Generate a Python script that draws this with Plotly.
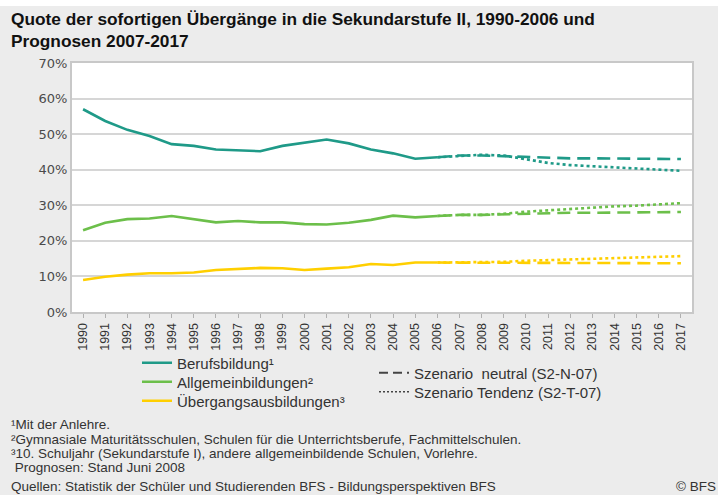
import plotly.graph_objects as go

# ---------------- data ----------------
years = [str(y) for y in range(1990, 2018)]
hist_years = [str(y) for y in range(1990, 2007)]
prog_years = [str(y) for y in range(2006, 2018)]

beruf_hist = [57.0, 53.7, 51.2, 49.5, 47.2, 46.7, 45.7, 45.5, 45.2, 46.7, 47.7, 48.5, 47.4, 45.7, 44.6, 43.1, 43.5]
allg_hist = [23.0, 25.1, 26.1, 26.3, 27.0, 26.2, 25.2, 25.6, 25.2, 25.2, 24.7, 24.6, 25.1, 25.9, 27.1, 26.6, 27.0]
ueberg_hist = [9.0, 9.9, 10.5, 10.9, 10.9, 11.1, 11.8, 12.1, 12.4, 12.3, 11.8, 12.2, 12.6, 13.5, 13.2, 13.9, 13.9]

beruf_neutral = [43.5, 44.0, 44.0, 43.8, 43.4, 43.3, 43.2, 43.2, 43.1, 43.1, 43.0, 43.0]
beruf_tendenz = [43.5, 43.9, 44.2, 44.0, 43.0, 41.9, 41.3, 41.0, 40.6, 40.4, 40.1, 39.7]
allg_neutral = [27.0, 27.3, 27.3, 27.5, 27.7, 27.8, 27.9, 27.9, 28.0, 28.0, 28.0, 28.1]
allg_tendenz = [27.0, 27.3, 27.3, 27.6, 28.2, 28.6, 29.0, 29.4, 29.7, 29.9, 30.2, 30.6]
ueberg_neutral = [13.9, 13.9, 13.8, 13.8, 13.8, 13.8, 13.7, 13.7, 13.7, 13.7, 13.7, 13.7]
ueberg_tendenz = [13.9, 13.9, 14.0, 14.1, 14.4, 14.6, 14.9, 15.0, 15.2, 15.4, 15.6, 15.7]

y_ticks = [0, 10, 20, 30, 40, 50, 60, 70]
y_ticklabels = [f"{v}%" for v in y_ticks]

series_names = ["Berufsbildung¹", "Allgemeinbildungen²", "Übergangsausbildungen³"]
series_colors = ["#1f9a88", "#6cbf4a", "#ffcf00"]
series_hist = [beruf_hist, allg_hist, ueberg_hist]
series_neutral = [beruf_neutral, allg_neutral, ueberg_neutral]
series_tendenz = [beruf_tendenz, allg_tendenz, ueberg_tendenz]
scenario_names = ["Szenario  neutral (S2-N-07)", "Szenario Tendenz (S2-T-07)"]

# ---------------- layout helpers ----------------
W, H = 720, 495
L, R, T, B = 72, 28, 63, 183
PW, PH = W - L - R, H - T - B
def px_x(x):
    return (x - L) / PW
def px_y(y):
    return (H - B - y) / PH

NARROW = "Liberation Sans Narrow, Arial Narrow, sans-serif"
LW = 2.6
DASH = "13px,7px"
DOT = "3px,3px"

fig = go.Figure()
legend_ids = ["legend", "legend2", "legend3"]
for i in range(3):
    fig.add_trace(go.Scatter(x=hist_years, y=series_hist[i], mode="lines", name=series_names[i],
                             line=dict(color=series_colors[i], width=LW), legend=legend_ids[i],
                             hoverinfo="skip"))
for i in range(3):
    fig.add_trace(go.Scatter(x=prog_years, y=series_neutral[i], mode="lines", showlegend=False,
                             line=dict(color=series_colors[i], width=LW, dash=DASH), hoverinfo="skip"))
    fig.add_trace(go.Scatter(x=prog_years, y=series_tendenz[i], mode="lines", showlegend=False,
                             line=dict(color=series_colors[i], width=LW, dash=DOT), hoverinfo="skip"))

# scenario legend entries
fig.add_trace(go.Scatter(x=[None], y=[None], mode="lines", name=scenario_names[0],
                         line=dict(color="#444444", width=2, dash="9px,5px"), legend="legend4"))
fig.add_trace(go.Scatter(x=[None], y=[None], mode="lines", name=scenario_names[1],
                         line=dict(color="#444444", width=1.5, dash="2px,2px"), legend="legend5"))

fig.update_xaxes(type="category", categoryorder="array", categoryarray=years,
                 range=[-0.5, len(years) - 0.5],
                 tickangle=-90, tickfont=dict(family=NARROW, size=12.5, color="#333333"),
                 ticks="outside", ticklen=4, tickcolor="#b0b0b0",
                 showgrid=False, showline=True, linecolor="#c8c8c8", linewidth=2, mirror=True,
                 zeroline=False, fixedrange=True)
fig.update_yaxes(range=[0, 70], tickvals=y_ticks, ticktext=y_ticklabels,
                 tickfont=dict(family="DejaVu Sans, Verdana, sans-serif", size=13, color="#4a4a4a"),
                 showgrid=True, gridcolor="#d6d6d6", gridwidth=2,
                 showline=True, linecolor="#c8c8c8", linewidth=2, mirror=True,
                 zeroline=False, ticks="", fixedrange=True)

FOOT = 13.5
annotations = [
    dict(text="¹Mit der Anlehre.", y=424),
    dict(text="²Gymnasiale Maturitätsschulen, Schulen für die Unterrichtsberufe, Fachmittelschulen.", y=439),
    dict(text="³10. Schuljahr (Sekundarstufe I), andere allgemeinbildende Schulen, Vorlehre.", y=453),
    dict(text=" Prognosen: Stand Juni 2008", y=467),
    dict(text="Quellen: Statistik der Schüler und Studierenden BFS - Bildungsperspektiven BFS", y=487),
]
ann_list = []
for a in annotations:
    ann_list.append(dict(text=a["text"], xref="paper", yref="paper", x=px_x(9), y=px_y(a["y"]),
                         xanchor="left", yanchor="middle", showarrow=False,
                         font=dict(family=NARROW, size=FOOT, color="#333333")))
ann_list.append(dict(text="© BFS", xref="paper", yref="paper", x=px_x(718), y=px_y(487),
                     xanchor="right", yanchor="middle", showarrow=False,
                     font=dict(family=NARROW, size=FOOT, color="#333333")))
ann_list.append(dict(text="<b>Quote der sofortigen Übergänge in die Sekundarstufe II, 1990-2006 und<br>Prognosen 2007-2017</b>",
                     xref="paper", yref="paper", x=px_x(9), y=px_y(7), xanchor="left", yanchor="top",
                     align="left", showarrow=False,
                     font=dict(family=NARROW, size=17.3, color="#111111")))

shapes = [
    dict(type="rect", xref="paper", yref="paper", x0=px_x(-5), x1=px_x(725), y0=px_y(-5), y1=px_y(6),
         fillcolor="white", line=dict(width=0), layer="below"),
    dict(type="rect", xref="paper", yref="paper", x0=px_x(718), x1=px_x(725), y0=px_y(-5), y1=px_y(500),
         fillcolor="white", line=dict(width=0), layer="below"),
]

LEGFONT = dict(family=NARROW, size=15, color="#333333")
def leg(xpx, ypx):
    return dict(x=px_x(xpx), y=px_y(ypx), xanchor="left", yanchor="middle",
                bgcolor="rgba(0,0,0,0)", font=LEGFONT, tracegroupgap=0, itemwidth=30)

fig.update_layout(
    width=W, height=H,
    margin=dict(l=L, r=R, t=T, b=B, autoexpand=False),
    paper_bgcolor="#ececec", plot_bgcolor="white",
    showlegend=True,
    legend=leg(137, 363),
    legend2=leg(137, 382),
    legend3=leg(137, 401),
    legend4=leg(374, 373),
    legend5=leg(374, 392),
    annotations=ann_list,
    shapes=shapes,
)

fig.write_html("out.html", config={"displayModeBar": False},
               post_script="document.body.style.margin='0';document.body.style.padding='0';")
